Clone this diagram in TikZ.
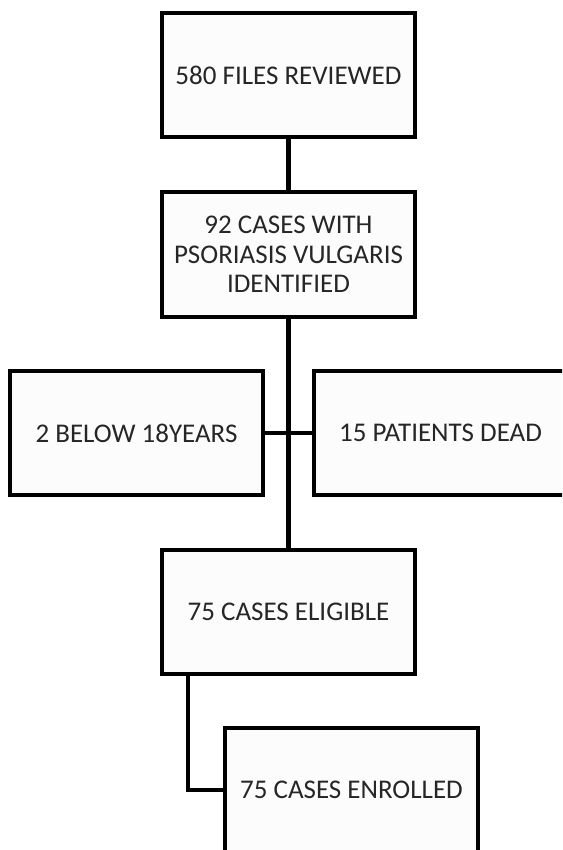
\documentclass[tikz,border=0pt]{standalone}
\usepackage{fontspec}
\setmainfont{Carlito}
\begin{document}
\begin{tikzpicture}[x=1pt,y=-1pt]
\tikzset{
  box/.style={draw=black, line width=4pt, fill=white!99!black,
    minimum width=253pt, minimum height=124pt, inner sep=0pt,
    align=center, text=black!85, font=\fontsize{27}{29.5}\selectfont},
  conn/.style={draw=black, line width=4.5pt}
}
\useasboundingbox (0,0) rectangle (562,850);
\clip (0,0) rectangle (562,850);
\node[box] (b1) at (288.5,75.5) {580 FILES REVIEWED};
\node[box] (b2) at (288.5,254.5) {92 CASES WITH\\PSORIASIS VULGARIS\\IDENTIFIED};
\node[box] (bl) at (136.5,433) {2 BELOW 18YEARS};
\node[box] (br) at (440.5,433) {15 PATIENTS DEAD};
\node[box] (b4) at (288.5,612) {75 CASES ELIGIBLE};
\node[box] (b5) at (351.5,790) {75 CASES ENROLLED};
\coordinate (k) at (188,675);
\draw[conn] (b1.south) -- (b2.north);
\draw[conn] (b2.south) -- (b4.north);
\draw[conn] (bl.east) -- (br.west);
\draw[conn] (k) |- (b5.west);
\end{tikzpicture}
\end{document}
